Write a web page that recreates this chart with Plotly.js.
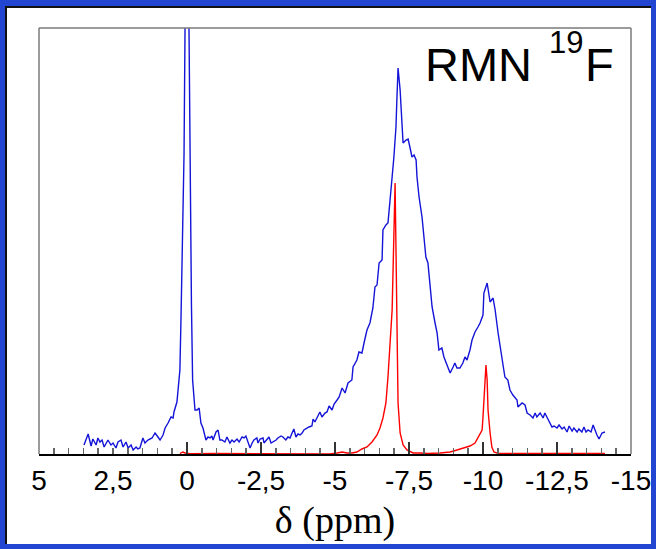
<!DOCTYPE html>
<html><head><meta charset="utf-8">
<script src="https://cdn.plot.ly/plotly-3.0.1.min.js"></script>
<style>
html,body{margin:0;padding:0;width:656px;height:549px;overflow:hidden;background:#2346d2;}
#panel{position:absolute;left:5px;top:6px;width:646px;height:538px;background:#fff;border-left:2px solid #111;border-top:2px solid #111;box-sizing:border-box;}
#chart{position:absolute;left:0;top:0;width:656px;height:549px;}
</style></head><body><div id="panel"></div><div id="chart"></div>
<script>
// Blue spectrum: chemical shift (ppm) and intensity (arbitrary units)
const bluePpm = [3.48,3.34,3.24,3.18,3.07,3.01,2.94,2.87,2.80,2.67,2.57,2.50,2.40,2.33,2.23,2.16,2.06,1.99,1.89,1.82,1.72,1.66,1.59,1.49,1.42,1.32,1.18,1.08,0.98,0.91,0.81,0.74,0.64,0.54,0.47,0.44,0.34,0.30,0.24,0.20,0.15,0.10,0.06,0.00,-0.06,-0.10,-0.15,-0.19,-0.23,-0.27,-0.34,-0.41,-0.47,-0.54,-0.64,-0.71,-0.78,-0.84,-0.88,-0.98,-1.05,-1.11,-1.18,-1.28,-1.35,-1.45,-1.52,-1.59,-1.69,-1.76,-1.86,-1.93,-1.99,-2.06,-2.13,-2.20,-2.26,-2.36,-2.40,-2.47,-2.57,-2.60,-2.70,-2.77,-2.84,-2.91,-3.01,-3.07,-3.18,-3.24,-3.34,-3.41,-3.48,-3.55,-3.61,-3.68,-3.75,-3.82,-3.89,-3.95,-4.05,-4.12,-4.22,-4.26,-4.32,-4.43,-4.49,-4.56,-4.66,-4.73,-4.80,-4.90,-4.97,-5.07,-5.14,-5.24,-5.34,-5.44,-5.57,-5.61,-5.74,-5.81,-5.91,-5.98,-6.08,-6.18,-6.25,-6.28,-6.35,-6.42,-6.49,-6.59,-6.62,-6.72,-6.79,-6.86,-6.93,-6.99,-7.06,-7.09,-7.13,-7.20,-7.26,-7.30,-7.40,-7.47,-7.53,-7.60,-7.67,-7.74,-7.77,-7.84,-7.94,-8.01,-8.07,-8.14,-8.21,-8.28,-8.38,-8.45,-8.51,-8.61,-8.68,-8.78,-8.89,-8.99,-9.05,-9.12,-9.22,-9.32,-9.39,-9.46,-9.56,-9.63,-9.73,-9.83,-9.90,-10.00,-10.03,-10.14,-10.17,-10.24,-10.34,-10.41,-10.51,-10.64,-10.74,-10.84,-10.91,-11.01,-11.15,-11.18,-11.32,-11.42,-11.49,-11.59,-11.69,-11.76,-11.82,-11.93,-12.03,-12.09,-12.16,-12.23,-12.33,-12.40,-12.50,-12.57,-12.67,-12.74,-12.84,-12.91,-13.01,-13.07,-13.18,-13.24,-13.34,-13.41,-13.48,-13.55,-13.65,-13.72,-13.78,-13.85,-13.92,-14.02,-14.12];
const blueInt = [9,20,8,15,9,16,12,14,7,14,9,11,6,12,14,7,12,6,9,4,7,5,6,16,11,14,16,21,17,14,19,26,31,37,36,42,52,64,84,140,220,300,450,750,450,300,150,74,55,44,44,46,31,26,14,17,16,18,14,22,24,14,14,12,17,11,14,12,15,12,17,16,18,12,6,11,14,16,11,15,16,11,15,17,11,12,14,16,18,17,14,17,16,21,25,17,20,19,21,24,26,27,28,35,32,39,42,37,41,42,48,44,50,54,57,66,61,71,74,87,94,102,101,111,124,131,141,146,167,169,191,194,224,229,231,251,277,297,327,354,386,364,331,311,314,315,307,297,299,294,277,257,237,217,197,191,171,147,131,121,104,106,97,89,81,87,91,86,86,91,97,94,104,114,122,127,131,139,161,171,164,152,156,144,121,94,77,74,64,59,54,47,51,49,41,39,36,41,37,41,36,41,37,32,27,28,26,29,25,27,22,28,23,26,22,25,22,27,22,24,22,29,24,19,15,21,22];

// Red spectrum
const redPpm = [0.24,0.14,0.07,-0.10,-1.00,-2.00,-3.00,-4.00,-4.83,-5.07,-5.24,-5.41,-5.57,-5.74,-5.91,-6.08,-6.25,-6.42,-6.52,-6.62,-6.72,-6.79,-6.86,-6.93,-7.03,-7.09,-7.13,-7.20,-7.30,-7.43,-7.64,-7.87,-8.14,-8.55,-8.89,-9.12,-9.32,-9.56,-9.73,-9.83,-9.97,-10.00,-10.03,-10.07,-10.10,-10.14,-10.17,-10.24,-10.30,-10.37,-10.51,-11.59,-12.50,-14.12];
const redInt = [0.5,2,1,0.3,0.5,0.5,0.5,0.5,0,1,2,1,1,2,5,7,12,19,26,36,51,77,107,144,271,154,51,21,9,4,1,1,0.5,1,2,4,6,8,11,16,24,37,57,84,89,74,44,21,7,2,0.5,0.5,0.5,0.5];

const tickVals = [5,2.5,0,-2.5,-5,-7.5,-10,-12.5,-15];
const tickText = ['5','2,5','0','-2,5','-5','-7,5','-10','-12,5','-15'];
const majorTickVals = [0,-2.5,-5,-7.5,-10,-12.5];

const traces = [
  {x: bluePpm, y: blueInt, type:'scatter', mode:'lines', xaxis:'x', yaxis:'y',
   line:{color:'#1414d8', width:1.4}, hoverinfo:'skip'},
  {x: redPpm, y: redInt, type:'scatter', mode:'lines', xaxis:'x2', yaxis:'y',
   line:{color:'#ff0000', width:1.4}, hoverinfo:'skip'}
];

const frameColor = '#7a7a7a';
const layout = {
  width:656, height:549,
  paper_bgcolor:'rgba(0,0,0,0)', plot_bgcolor:'#ffffff',
  margin:{l:39, r:25, t:28, b:95},
  showlegend:false,
  xaxis:{
    range:[5,-15], autorange:false,
    tickmode:'array', tickvals:tickVals, ticktext:tickText,
    ticks:'inside', ticklen:6, tickwidth:1.5, tickcolor:'#666',
    minor:{tickmode:'linear', tick0:0, dtick:0.5, ticks:'inside', ticklen:6, tickwidth:1.5, tickcolor:'#666'},
    tickfont:{family:'Liberation Sans, Arial, sans-serif', size:28, color:'#000'},
    showline:true, linecolor:'#000', linewidth:2,
    showgrid:false, zeroline:false,
    title:{text:'δ (ppm)', font:{family:'Liberation Serif, Times New Roman, serif', size:38, color:'#000'}, standoff:12}
  },
  xaxis2:{
    overlaying:'x', anchor:'y', side:'bottom',
    range:[5,-15], autorange:false,
    tickmode:'array', tickvals:majorTickVals,
    ticks:'inside', ticklen:12, tickwidth:1.5, tickcolor:'#333',
    showticklabels:false, showline:false, showgrid:false, zeroline:false
  },
  yaxis:{
    range:[0,426], autorange:false,
    showticklabels:false, ticks:'', showgrid:false, zeroline:false, showline:false
  },
  shapes:[
    {type:'line', xref:'paper', yref:'paper', x0:0, x1:1, y0:1, y1:1, line:{color:frameColor, width:1.5}},
    {type:'line', xref:'paper', yref:'paper', x0:0, x1:0, y0:0, y1:1, line:{color:frameColor, width:1.5}},
    {type:'line', xref:'paper', yref:'paper', x0:1, x1:1, y0:0, y1:1, line:{color:frameColor, width:1.5}}
  ],
  annotations:[
    {text:'RMN', xref:'paper', yref:'paper', x:0.649, y:0.914, xanchor:'left', yanchor:'middle', showarrow:false,
     font:{family:'Liberation Sans, Arial, sans-serif', size:47, color:'#000'}},
    {text:'19', xref:'paper', yref:'paper', x:0.858, y:0.966, xanchor:'left', yanchor:'middle', showarrow:false,
     font:{family:'Liberation Sans, Arial, sans-serif', size:31, color:'#000'}},
    {text:'F', xref:'paper', yref:'paper', x:0.919, y:0.914, xanchor:'left', yanchor:'middle', showarrow:false,
     font:{family:'Liberation Sans, Arial, sans-serif', size:47, color:'#000'}}
  ]
};
Plotly.newPlot('chart', traces, layout, {staticPlot:true, displayModeBar:false});
</script></body></html>
